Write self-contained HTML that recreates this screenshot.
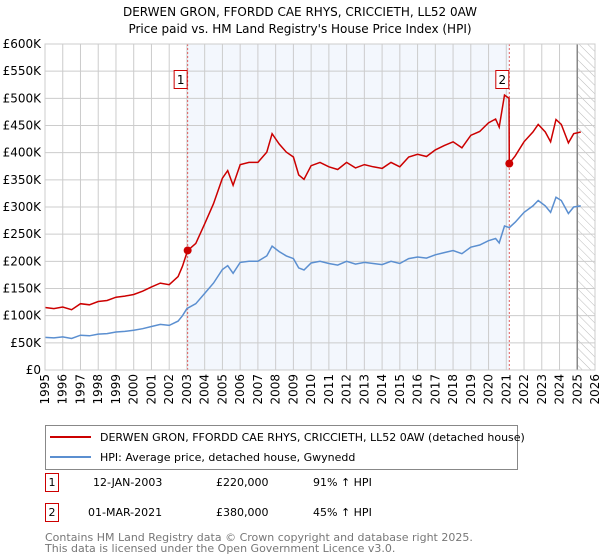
<!DOCTYPE html>
<html><head><meta charset="utf-8"><style>
body{margin:0;background:#fff;font-family:"DejaVu Sans","Liberation Sans",sans-serif;}
#wrap{position:relative;width:600px;height:560px;overflow:hidden}
</style></head><body><div id="wrap">
<svg id="svg" width="600" height="560" style="position:absolute;left:0;top:0">
<defs><pattern id="hatch" width="6" height="6" patternUnits="userSpaceOnUse" patternTransform="rotate(-45)"><line x1="0" y1="0" x2="0" y2="6" stroke="#bbb" stroke-width="1"/></pattern></defs>
<text x="300" y="16" text-anchor="middle" font-size="12" font-family="DejaVu Sans,sans-serif">DERWEN GRON, FFORDD CAE RHYS, CRICCIETH, LL52 0AW</text>
<text x="300" y="33" text-anchor="middle" font-size="12" font-family="DejaVu Sans,sans-serif">Price paid vs. HM Land Registry's House Price Index (HPI)</text>
<g id="plot"></g>
<g id="legend">
<rect x="45.5" y="425.5" width="472" height="44" fill="#fff" stroke="#888"/>
<line x1="50" y1="437" x2="91" y2="437" stroke="#cc0000" stroke-width="2"/>
<text x="100" y="441" font-size="11" font-family="DejaVu Sans,sans-serif">DERWEN GRON, FFORDD CAE RHYS, CRICCIETH, LL52 0AW (detached house)</text>
<line x1="50" y1="457" x2="91" y2="457" stroke="#5b8fd0" stroke-width="2"/>
<text x="100" y="461" font-size="11" font-family="DejaVu Sans,sans-serif">HPI: Average price, detached house, Gwynedd</text>
</g>
<g font-size="11" font-family="DejaVu Sans,sans-serif">
<rect x="45.5" y="473.5" width="13" height="18" fill="#fff" stroke="#cc0000"/><text x="52" y="486" text-anchor="middle">1</text>
<text x="93" y="486">12-JAN-2003</text><text x="216" y="486">£220,000</text><text x="313" y="486">91% ↑ HPI</text>
<rect x="45.5" y="503.5" width="13" height="18" fill="#fff" stroke="#cc0000"/><text x="52" y="516" text-anchor="middle">2</text>
<text x="88" y="516">01-MAR-2021</text><text x="216" y="516">£380,000</text><text x="313" y="516">45% ↑ HPI</text>
</g>
<text x="45" y="541" font-size="11" fill="#777" font-family="DejaVu Sans,sans-serif">Contains HM Land Registry data © Crown copyright and database right 2025.</text>
<text x="45" y="552" font-size="11" fill="#777" font-family="DejaVu Sans,sans-serif">This data is licensed under the Open Government Licence v3.0.</text>
</svg>
</div>
<script>
const hpiYears=[1995,1995.5,1996,1996.5,1997,1997.5,1998,1998.5,1999,1999.5,2000,2000.5,2001,2001.5,2002,2002.5,2002.75,2003,2003.5,2004,2004.5,2005,2005.3,2005.6,2006,2006.5,2007,2007.5,2007.8,2008.2,2008.6,2009,2009.3,2009.6,2010,2010.5,2011,2011.5,2012,2012.5,2013,2013.5,2014,2014.5,2015,2015.5,2016,2016.5,2017,2017.5,2018,2018.5,2019,2019.5,2020,2020.4,2020.6,2020.9,2021.17,2021.5,2022,2022.5,2022.8,2023.2,2023.5,2023.8,2024.1,2024.5,2024.8,2025.2];
const hpiValues=[60,59,61,58,64,63,66,67,70,71,73,76,80,84,82,90,100,113,122,141,160,185,192,178,198,200,200,210,228,218,210,205,188,184,197,200,196,193,200,195,198,196,194,200,196,205,208,206,212,216,220,214,226,230,238,242,234,265,262,272,290,302,312,302,290,318,312,288,300,302];
const priceYears=[1995,1995.5,1996,1996.5,1997,1997.5,1998,1998.5,1999,1999.5,2000,2000.5,2001,2001.5,2002,2002.5,2002.75,2003.04,2003.5,2004,2004.5,2005,2005.3,2005.6,2006,2006.5,2007,2007.5,2007.8,2008.2,2008.6,2009,2009.3,2009.6,2010,2010.5,2011,2011.5,2012,2012.5,2013,2013.5,2014,2014.5,2015,2015.5,2016,2016.5,2017,2017.5,2018,2018.5,2019,2019.5,2020,2020.4,2020.6,2020.9,2021.15,2021.17,2021.5,2022,2022.5,2022.8,2023.2,2023.5,2023.8,2024.1,2024.5,2024.8,2025.2];
const priceValues=[115,113,116,111,122,120,126,128,134,136,139,145,153,160,157,172,191,220,233,269,306,353,367,340,378,382,382,401,435,416,401,392,359,351,376,382,374,369,382,372,378,374,371,382,374,392,397,393,405,413,420,409,432,439,455,462,447,506,500,380,394,420,438,452,438,420,461,452,418,435,438];
const saleYears=[2003.04,2021.17];
const saleValues=[220,380];
const saleLabels=["1","2"];
const yTicks=[0,50,100,150,200,250,300,350,400,450,500,550,600];
const yTickLabels=["£0","£50K","£100K","£150K","£200K","£250K","£300K","£350K","£400K","£450K","£500K","£550K","£600K"];
const xTicks=[1995,1996,1997,1998,1999,2000,2001,2002,2003,2004,2005,2006,2007,2008,2009,2010,2011,2012,2013,2014,2015,2016,2017,2018,2019,2020,2021,2022,2023,2024,2025,2026];

const X0=45,X1=595,Y0=370,Y1=44,NS="http://www.w3.org/2000/svg";
const xs=t=>X0+(t-1995)/(2026-1995)*(X1-X0);
const ys=v=>Y0-v/600*(Y0-Y1);
const g=document.getElementById('plot');
function mk(tag,attrs,parent){const e=document.createElementNS(NS,tag);for(const k in attrs)e.setAttribute(k,attrs[k]);(parent||g).appendChild(e);return e;}
let e;
e=mk('rect',{x:xs(saleYears[0]),y:Y1,width:xs(saleYears[1])-xs(saleYears[0]),height:Y0-Y1,fill:'#eef3fc',opacity:0.7});


e=mk('rect',{x:xs(2025),y:Y1,width:X1-xs(2025),height:Y0-Y1,fill:'url(#hatch)'});


yTicks.forEach((v,i)=>{
 e=mk('line',{x1:X0,x2:X1,y1:ys(v),y2:ys(v),stroke:'#ccc','stroke-width':1});
 
 
 e=mk('text',{x:41,y:ys(v)+4,'text-anchor':'end','font-size':12,'font-family':'DejaVu Sans,sans-serif'});
 e.textContent=yTickLabels[i];
 
 
});
xTicks.forEach(t=>{
 e=mk('line',{x1:xs(t),x2:xs(t),y1:Y1,y2:Y0,stroke:'#ccc','stroke-width':1});
 
 
 e=mk('text',{x:0,y:0,'text-anchor':'end','font-size':12,'font-family':'DejaVu Sans,sans-serif',transform:`translate(${xs(t)+4},${Y0+4}) rotate(-90)`});
 e.textContent=t;
 
 
});
e=mk('line',{x1:xs(2025),x2:xs(2025),y1:Y1,y2:Y0,stroke:'#888','stroke-width':1.5});


saleYears.forEach(t=>{
 e=mk('line',{x1:xs(t),x2:xs(t),y1:Y1,y2:Y0,stroke:'#e06060','stroke-width':1,'stroke-dasharray':'2,2'});
 
 
});
const pts=(T,V)=>T.map((t,i)=>xs(t).toFixed(1)+','+ys(V[i]).toFixed(1)).join(' ');
e=mk('polyline',{points:pts(hpiYears,hpiValues),fill:'none',stroke:'#5b8fd0','stroke-width':1.5});


e=mk('polyline',{points:pts(priceYears,priceValues),fill:'none',stroke:'#cc0000','stroke-width':1.5});


saleYears.forEach((t,i)=>{
 e=mk('circle',{cx:xs(t),cy:ys(saleValues[i]),r:4,fill:'#cc0000'});
 
 
 const bx=xs(t)-13;
 e=mk('rect',{x:bx-0.5,y:70.5,width:13,height:18,fill:'#fff',stroke:'#cc0000'});
 
 
 e=mk('text',{x:bx+6,y:84,'text-anchor':'middle','font-size':12,'font-family':'DejaVu Sans,sans-serif'});
 e.textContent=saleLabels[i];
 
 
});
e=mk('rect',{x:X0,y:Y1,width:X1-X0,height:Y0-Y1,fill:'none',stroke:'#ccc'});


</script></body></html>
